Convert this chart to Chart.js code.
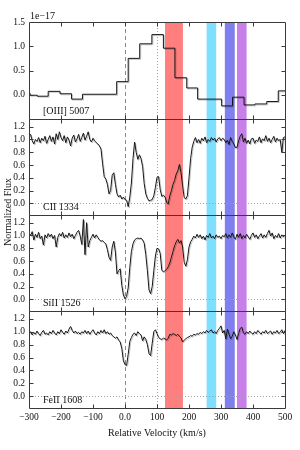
<!DOCTYPE html>
<html>
<head>
<meta charset="utf-8">
<script src="https://cdn.jsdelivr.net/npm/chart.js@4.4.1/dist/chart.umd.min.js"></script>
<style>
  html, body { margin: 0; padding: 0; background: #fff; }
  #wrap { position: relative; width: 300px; height: 450px; }
  #wrap canvas { position: absolute; left: 0; top: 0; }
</style>
</head>
<body>
<div id="wrap">
  <canvas id="p0" width="300" height="450"></canvas>
  <canvas id="p1" width="300" height="450"></canvas>
  <canvas id="p2" width="300" height="450"></canvas>
  <canvas id="p3" width="300" height="450"></canvas>
</div>
<script>
// velocity grid of the spectra (km/s), 5 km/s sampling
const velStart = -300;
const velStep = 5;
const velocity = Array.from({ length: 161 }, (_, i) => velStart + velStep * i);

// [OIII] 5007 binned flux (units of 1e-17), bin edges in km/s
const oiiiEdges = [-300, -297, -274, -240, -203, -167, -133, -26, 10, 46, 84, 120, 156, 193, 227, 302, 336, 372, 406, 443, 479, 500];
const oiiiFlux = [0.035, -0.01, -0.03, 0.07, 0.02, -0.09, 0.01, 0.27, 0.75, 1.05, 1.24, 0.96, 0.35, 0.14, -0.09, -0.23, -0.05, -0.21, -0.19, -0.14, 0.08];

// normalized flux, one value per velocity sample
const ciiFlux = [
  1.05, 1.08, 0.98, 0.93, 1.00, 0.97, 1.03, 0.95, 1.02, 0.98,
  1.05, 0.94, 1.00, 1.06, 0.97, 1.04, 0.93, 1.09, 1.00, 1.12,
  1.03, 0.98, 1.06, 0.95, 1.04, 0.99, 0.90, 1.02, 1.07, 0.96,
  1.01, 1.08, 0.97, 1.03, 1.10, 0.99, 1.05, 1.12, 1.00, 0.96,
  1.02, 0.98, 0.95, 0.93, 0.90, 0.85, 0.62, 0.42, 0.38, 0.30,
  0.15, 0.20, 0.44, 0.48, 0.30, 0.15, 0.10, 0.13, 0.07, 0.10,
  0.06, 0.05, -0.05, 0.10, 0.32, 0.70, 0.96, 0.80, 0.69, 0.76,
  0.70, 0.58, 0.31, 0.15, 0.08, 0.04, 0.05, 0.06, 0.12, 0.25,
  0.41, 0.42, 0.22, 0.11, 0.13, 0.10, 0.02, -0.01, 0.12, 0.20,
  0.30, 0.36, 0.46, 0.51, 0.61, 0.48, 0.28, 0.09, 0.07, 0.12,
  0.40, 0.70, 0.88, 0.97, 1.03, 0.95, 1.00, 0.94, 1.02, 0.98,
  1.04, 0.95, 1.00, 0.97, 1.03, 0.99, 1.02, 0.96, 1.01, 1.03,
  0.98, 1.02, 1.00, 0.95, 0.99, 0.92, 1.03, 0.97, 0.93, 0.87,
  0.88, 0.98, 1.05, 1.09, 0.96, 1.02, 0.94, 0.99, 0.93, 1.01,
  1.02, 0.94, 0.99, 0.97, 1.04, 0.95, 1.01, 0.98, 1.06, 0.97,
  1.02, 0.95, 1.00, 1.05, 0.96, 1.02, 0.98, 1.00, 0.80, 1.03,
  1.04
];
const siiiFlux = [
  1.04, 1.00, 1.06, 0.93, 1.02, 0.97, 1.05, 0.95, 0.99, 0.85,
  1.01, 0.96, 1.03, 0.98, 1.02, 0.95, 1.00, 0.82, 0.97, 1.03,
  0.99, 1.05, 0.96, 1.01, 0.97, 1.04, 0.98, 1.02, 0.95, 1.00,
  1.05, 1.08, 0.99, 0.86, 1.25, 0.70, 1.20, 0.82, 0.92, 0.97,
  1.02, 0.96, 1.01, 0.97, 0.93, 0.91, 0.92, 0.89, 0.87, 0.78,
  0.66, 0.61, 0.82, 0.91, 0.74, 0.40, 0.45, 0.48, 0.22, 0.07,
  0.01, 0.05, 0.18, 0.50, 0.75, 0.87, 0.93, 0.95, 0.96, 0.95,
  0.96, 0.93, 0.88, 0.70, 0.45, 0.15, 0.09, 0.20, 0.45, 0.68,
  0.80, 0.79, 0.72, 0.46, 0.43, 0.45, 0.47, 0.51, 0.57, 0.66,
  0.75, 0.84, 0.90, 0.94, 0.88, 0.92, 0.82, 0.58, 0.52, 0.62,
  0.82, 0.90, 0.94, 0.99, 0.96, 1.02, 0.97, 1.01, 0.95, 0.99,
  0.93, 1.00, 0.97, 1.03, 0.96, 0.99, 0.95, 1.01, 0.97, 0.99,
  0.95, 1.00, 0.98, 1.03, 0.96, 1.01, 0.97, 1.04, 0.98, 0.94,
  1.02, 0.97, 1.03, 0.95, 1.00, 0.96, 1.02, 0.98, 0.94, 1.00,
  1.04, 0.97, 1.01, 0.95, 0.99, 1.03, 0.96, 1.01, 0.97, 1.03,
  1.08, 0.99, 1.04, 0.95, 1.00, 0.97, 1.03, 0.96, 1.01, 0.98,
  1.00
];
const feiiFlux = [
  0.97, 1.00, 0.95, 0.99, 0.96, 1.01, 0.97, 0.94, 0.99, 1.02,
  0.96, 0.98, 0.95, 1.00, 0.97, 1.02, 0.98, 0.95, 1.00, 0.97,
  1.03, 0.99, 0.96, 1.01, 0.98, 1.04, 1.08, 1.02, 0.98, 1.01,
  0.97, 0.99, 0.96, 1.00, 0.98, 1.02, 0.97, 1.01, 0.96, 1.00,
  1.03, 0.98, 0.95, 1.00, 0.97, 1.02, 0.98, 1.03, 0.97, 1.00,
  0.96, 0.98, 0.94, 0.92, 0.90, 0.92, 0.87, 0.84, 0.74, 0.55,
  0.49, 0.48, 0.65, 0.85, 0.91, 0.96, 0.98, 0.94, 1.00, 0.97,
  0.95, 0.86, 0.92, 0.88, 0.80, 0.66, 0.63, 0.82, 1.00, 1.03,
  0.97, 0.91, 0.89, 0.88, 0.90, 0.89, 0.87, 0.90, 0.96, 0.95,
  0.97, 0.96, 0.94, 0.96, 0.93, 0.90, 0.84, 0.87, 0.89, 0.91,
  0.92, 0.94, 0.93, 0.96, 0.95, 0.97, 0.96, 0.99, 0.97, 1.00,
  0.98, 1.02, 0.99, 1.01, 1.03, 0.98, 1.00, 0.97, 1.02, 1.05,
  1.09, 0.98, 1.02, 0.89, 1.04, 0.96, 0.89, 0.93, 1.00, 0.95,
  0.88, 0.97, 1.05, 1.07, 0.98, 0.96, 1.00, 0.97, 1.01, 0.98,
  0.96, 1.00, 0.97, 1.02, 0.99, 0.96, 1.00, 0.98, 1.02, 0.97,
  0.99, 1.01, 0.96, 1.00, 0.98, 1.02, 0.97, 0.99, 1.03, 0.97,
  1.02
];

// tick labels
const velTicks = [-300, -200, -100, 0, 100, 200, 300, 400, 500];
const oiiiTicks = [0.0, 0.5, 1.0, 1.5];
const normTicks = [0.0, 0.2, 0.4, 0.6, 0.8, 1.0, 1.2];

// shaded velocity windows (km/s)
const bandFrom = [125, 255, 312, 350];
const bandTo = [181, 285, 343, 380];
const bandColors = ['rgba(255,0,0,0.5)', 'rgba(0,191,255,0.5)', 'rgba(0,0,220,0.5)', 'rgba(148,0,211,0.5)'];

const FRAME = '#3a3a3a';
const SERIF = "'Liberation Serif', 'DejaVu Serif', serif";

function fmt(v) {
  const s = Math.abs(v) >= 100 ? v.toFixed(0) : v.toFixed(1);
  return s.replace('-', '\u2212');
}

// per-panel decorations: bands, reference lines, frame, inward ticks, texts
function makeDecor(cfg) {
  return {
    id: 'decor_' + cfg.label.replace(/\W/g, ''),
    beforeDatasetsDraw(chart) {
      const { ctx, chartArea: a, scales: { x, y } } = chart;
      ctx.save();
      bandFrom.forEach((from, i) => {
        const x0 = x.getPixelForValue(from);
        const x1 = x.getPixelForValue(bandTo[i]);
        ctx.fillStyle = bandColors[i];
        ctx.fillRect(x0, a.top, x1 - x0, a.bottom - a.top);
      });
      ctx.lineWidth = 1;
      ctx.strokeStyle = '#8a8a8a';
      ctx.setLineDash([4, 3]);
      let px = Math.round(x.getPixelForValue(0)) + 0.5;
      ctx.beginPath(); ctx.moveTo(px, a.top); ctx.lineTo(px, a.bottom); ctx.stroke();
      ctx.strokeStyle = '#a0a0a0';
      ctx.setLineDash([1, 2]);
      px = Math.round(x.getPixelForValue(100)) + 0.5;
      ctx.beginPath(); ctx.moveTo(px, a.top); ctx.lineTo(px, a.bottom); ctx.stroke();
      if (cfg.zeroLine) {
        const py = Math.round(y.getPixelForValue(0)) + 0.5;
        ctx.beginPath(); ctx.moveTo(a.left, py); ctx.lineTo(a.right, py); ctx.stroke();
      }
      ctx.restore();
    },
    // faint grey echo under the spectrum, as in the original
    beforeDatasetDraw(chart) {
      const ctx = chart.ctx;
      ctx.save();
      ctx.shadowColor = 'rgba(0,0,0,0.22)';
      ctx.shadowOffsetX = 1;
      ctx.shadowOffsetY = 1;
      ctx.shadowBlur = 0;
    },
    afterDatasetDraw(chart) {
      chart.ctx.restore();
    },
    afterDraw(chart) {
      const { ctx, chartArea: a, scales: { x, y } } = chart;
      ctx.save();
      ctx.setLineDash([]);
      ctx.strokeStyle = FRAME;
      ctx.lineWidth = 1;
      const l = Math.round(a.left) + 0.5, r = Math.round(a.right) + 0.5;
      const t = Math.round(a.top) + 0.5, b = Math.round(a.bottom) + 0.5;
      ctx.beginPath();
      ctx.moveTo(l, t); ctx.lineTo(r, t); ctx.lineTo(r, b); ctx.lineTo(l, b); ctx.closePath();
      velTicks.forEach(v => {
        if (v <= -300 || v >= 500) return;
        const tx = Math.round(x.getPixelForValue(v)) + 0.5;
        ctx.moveTo(tx, t); ctx.lineTo(tx, t + 4);
        ctx.moveTo(tx, b); ctx.lineTo(tx, b - 4);
      });
      cfg.ticks.forEach(v => {
        if (v <= cfg.min || v >= cfg.max) return;
        const ty = Math.round(y.getPixelForValue(v)) + 0.5;
        ctx.moveTo(l, ty); ctx.lineTo(l + 4, ty);
        ctx.moveTo(r, ty); ctx.lineTo(r - 4, ty);
      });
      ctx.stroke();
      ctx.fillStyle = '#111';
      ctx.font = '10px ' + SERIF;
      ctx.textAlign = 'left';
      ctx.textBaseline = 'alphabetic';
      ctx.fillText(cfg.label, a.left + 14, a.bottom - 5);
      if (cfg.scaleNote) {
        ctx.fillText(cfg.scaleNote, a.left + 1, a.top - 3);
      }
      if (cfg.yTitle) {
        ctx.translate(8, 212);
        ctx.rotate(-Math.PI / 2);
        ctx.textAlign = 'center';
        ctx.textBaseline = 'middle';
        ctx.fillText(cfg.yTitle, 0, 0);
      }
      ctx.restore();
    }
  };
}

function makePanel(canvasId, cfg) {
  const showX = !!cfg.showX;
  new Chart(document.getElementById(canvasId).getContext('2d'), {
    type: 'line',
    data: {
      datasets: [{
        data: cfg.points,
        borderColor: '#151515',
        borderWidth: 1,
        pointRadius: 0,
        tension: 0,
        stepped: cfg.stepped || false
      }]
    },
    options: {
      responsive: false,
      animation: false,
      events: [],
      layout: { padding: { top: cfg.top, bottom: showX ? 0 : 450 - cfg.bottom, left: 0, right: 15 } },
      plugins: { legend: { display: false }, tooltip: { enabled: false } },
      scales: {
        x: {
          type: 'linear',
          min: -300,
          max: 500,
          display: showX,
          grid: { display: false, drawTicks: false },
          border: { display: false },
          afterBuildTicks: s => { s.ticks = velTicks.map(v => ({ value: v })); },
          afterFit: s => { if (showX) s.height = 450 - cfg.bottom; },
          ticks: { padding: 4, color: '#111', font: { family: SERIF, size: 9.5 }, maxRotation: 0, callback: v => fmt(v) },
          title: { display: true, text: 'Relative Velocity (km/s)', color: '#111', font: { family: SERIF, size: 10 }, padding: { top: 0, bottom: 11 } }
        },
        y: {
          type: 'linear',
          min: cfg.min,
          max: cfg.max,
          grid: { display: false, drawTicks: false },
          border: { display: false },
          afterBuildTicks: s => { s.ticks = cfg.ticks.map(v => ({ value: v })); },
          afterFit: s => { s.width = 29; },
          ticks: { padding: 4, color: '#111', font: { family: SERIF, size: 9.5 }, callback: v => fmt(v) }
        }
      }
    },
    plugins: [makeDecor(cfg)]
  });
}

const specPoints = flux => velocity.map((v, i) => ({ x: v, y: flux[i] }));

// horizontal run at each bin's level, then a vertical jump at the next edge
makePanel('p0', {
  top: 22, bottom: 119, min: -0.5, max: 1.5, ticks: oiiiTicks,
  label: '[OIII] 5007', scaleNote: '1e\u221217', stepped: 'before',
  points: oiiiEdges.map((e, i) => ({ x: e, y: oiiiFlux[Math.min(i, oiiiFlux.length - 1)] }))
});
makePanel('p1', {
  top: 119, bottom: 215, min: -0.18, max: 1.32, ticks: normTicks,
  label: 'CII 1334', zeroLine: true, points: specPoints(ciiFlux)
});
makePanel('p2', {
  top: 215, bottom: 311, min: -0.18, max: 1.32, ticks: normTicks,
  label: 'SiII 1526', zeroLine: true, points: specPoints(siiiFlux)
});
makePanel('p3', {
  top: 311, bottom: 408, min: -0.18, max: 1.32, ticks: normTicks,
  label: 'FeII 1608', zeroLine: true, showX: true, yTitle: 'Normalized Flux',
  points: specPoints(feiiFlux)
});
</script>
</body>
</html>
